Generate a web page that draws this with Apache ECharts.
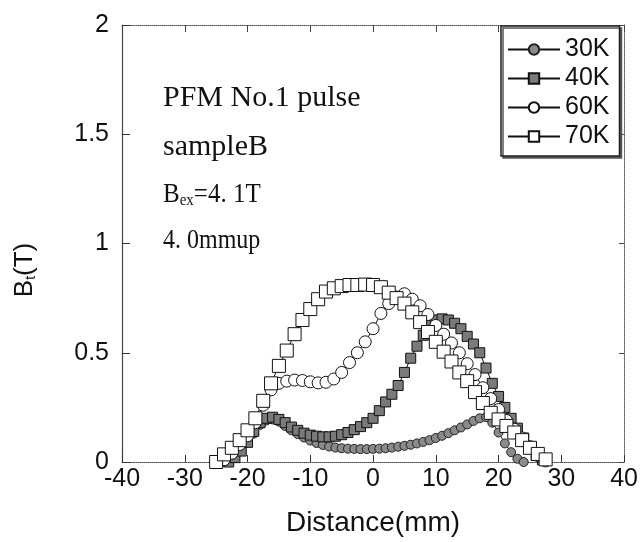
<!DOCTYPE html>
<html><head><meta charset="utf-8">
<script src="https://cdn.jsdelivr.net/npm/echarts@6/dist/echarts.min.js"></script>
<style>html,body{margin:0;padding:0;background:#fff}#c{width:641px;height:542px}</style>
</head><body><div id="c"></div>
<script>
const seriesNames = ['30K', '40K', '60K', '70K'];

const x30 = [-23,-22,-21,-20,-19,-18,-17,-16,-15,-14,-13,-12,-11,-10,-9,-8,-7,-6,-5,-4,-3,-2,-1,0,1,2,3,4,5,6,7,8,9,10,11,12,13,14,15,16,17,18,19,20,21,22,23,24];
const y30 = [0.0,0.02,0.05,0.09,0.13,0.17,0.19,0.195,0.185,0.165,0.145,0.128,0.112,0.098,0.087,0.078,0.071,0.066,0.063,0.061,0.06,0.059,0.059,0.06,0.061,0.063,0.066,0.07,0.074,0.079,0.085,0.092,0.10,0.11,0.12,0.132,0.145,0.158,0.172,0.188,0.20,0.205,0.18,0.135,0.085,0.045,0.015,0.0];

const x40 = [-23,-22,-21,-20,-19,-18,-17,-16,-15,-14,-13,-12,-11,-10,-9,-8,-7,-6,-5,-4,-3,-2,-1,0,1,2,3,4,5,6,7,8,9,10,11,12,13,14,15,16,17,18,19,20,21,22,23,24,25,26,27];
const y40 = [0.0,0.02,0.05,0.09,0.14,0.18,0.20,0.205,0.195,0.18,0.16,0.145,0.132,0.123,0.118,0.115,0.115,0.118,0.125,0.135,0.148,0.162,0.18,0.20,0.235,0.275,0.31,0.35,0.41,0.475,0.53,0.58,0.625,0.65,0.655,0.65,0.635,0.61,0.575,0.54,0.50,0.43,0.36,0.30,0.25,0.20,0.155,0.11,0.07,0.03,0.01];

const x60 = [-23.75,-22.5,-21.25,-20,-18.75,-17.5,-16.25,-15,-13.75,-12.5,-11.25,-10,-8.75,-7.5,-6.25,-5,-3.75,-2.5,-1.25,0,1.25,2.5,3.75,5,6.25,7.5,8.75,10,11.25,12.5,13.75,15,16.25,17.5,18.75,20,21.25,22.5,23.75,25,26.25,27.5];
const y60 = [0.01,0.04,0.08,0.12,0.18,0.26,0.33,0.36,0.37,0.375,0.373,0.367,0.362,0.365,0.38,0.41,0.455,0.50,0.55,0.61,0.68,0.725,0.755,0.77,0.745,0.715,0.675,0.625,0.585,0.545,0.50,0.45,0.40,0.34,0.29,0.24,0.19,0.15,0.11,0.07,0.03,0.005];

const x70 = [-25,-23.75,-22.5,-21.25,-20,-18.75,-17.5,-16.25,-15,-13.75,-12.5,-11.25,-10,-8.75,-7.5,-6.25,-5,-3.75,-2.5,-1.25,0,1.25,2.5,3.75,5,6.25,7.5,8.75,10,11.25,12.5,13.75,15,16.25,17.5,18.75,20,21.25,22.5,23.75,25,26.25,27.5];
const y70 = [0.0,0.035,0.065,0.10,0.145,0.20,0.28,0.36,0.44,0.51,0.585,0.65,0.70,0.745,0.78,0.795,0.805,0.81,0.81,0.812,0.81,0.80,0.775,0.75,0.725,0.685,0.64,0.595,0.55,0.505,0.46,0.41,0.37,0.32,0.27,0.225,0.195,0.165,0.135,0.10,0.065,0.037,0.012];

const annotations = ['PFM No.1 pulse', 'sampleB', '=4. 1T', '4. 0mmup'];

function zip(xs, ys) { return xs.map((x, i) => [x, ys[i]]); }

const SANS = '"Liberation Sans", Arial, sans-serif';
const SERIF = '"Liberation Serif", "Times New Roman", serif';

function mkSeries(name, xs, ys, symbol, size, fill, border) {
  return {
    name: name, type: 'line', data: zip(xs, ys),
    symbol: symbol, symbolSize: size, showAllSymbol: true,
    lineStyle: { color: '#111', width: 1 },
    itemStyle: { color: fill, borderColor: border, borderWidth: 1 },
    emphasis: { disabled: true },
    z: 3
  };
}

const chart = echarts.init(document.getElementById('c'), null, { renderer: 'canvas' });
chart.setOption({
  animation: false,
  backgroundColor: '#fff',
  grid: { left: 122, right: 15, top: 25, bottom: 71 },
  legend: {
    orient: 'vertical', left: 501, top: 26,
    padding: [11, 10, 7, 6], itemGap: 4, itemWidth: 52, itemHeight: 13,
    textStyle: { fontFamily: SANS, fontSize: 25, color: '#111' },
    borderColor: '#222', borderWidth: 1.5, backgroundColor: '#fff',
    shadowColor: '#555', shadowOffsetX: 2, shadowOffsetY: 2, shadowBlur: 0,
    data: seriesNames
  },
  xAxis: [{
    type: 'value', min: -40, max: 40, interval: 10, position: 'bottom',
    axisLine: { show: true, onZero: false, lineStyle: { color: '#444', type: 'dotted', width: 1 } },
    axisTick: { show: true, inside: true, length: 7, lineStyle: { color: '#333' } },
    splitLine: { show: false },
    axisLabel: { fontSize: 25, fontFamily: SANS, color: '#111', margin: 5 },
    name: 'Distance(mm)', nameLocation: 'middle', nameGap: 47,
    nameTextStyle: { fontSize: 28, fontFamily: SANS, color: '#111' }
  }, {
    type: 'value', min: -40, max: 40, interval: 10, position: 'top',
    axisLine: { show: true, onZero: false, lineStyle: { color: '#555', type: 'dotted', width: 1 } },
    axisTick: { show: true, inside: true, length: 7, lineStyle: { color: '#444' } },
    splitLine: { show: false }, axisLabel: { show: false }
  }],
  yAxis: [{
    type: 'value', min: 0, max: 2, interval: 0.5, position: 'left',
    axisLine: { show: true, onZero: false, lineStyle: { color: '#444', width: 1.2 } },
    axisTick: { show: true, inside: true, length: 8, lineStyle: { color: '#333' } },
    splitLine: { show: false },
    axisLabel: { fontSize: 25, fontFamily: SANS, color: '#111', margin: 13 }
  }, {
    type: 'value', min: 0, max: 2, interval: 0.5, position: 'right',
    axisLine: { show: true, onZero: false, lineStyle: { color: '#555', type: 'dotted', width: 1 } },
    axisTick: { show: true, inside: true, length: 5, lineStyle: { color: '#444' } },
    splitLine: { show: false }, axisLabel: { show: false }
  }],
  series: [
    mkSeries('30K', x30, y30, 'circle', 9, '#8a8a8a', '#222'),
    mkSeries('40K', x40, y40, 'rect', 10, '#7a7a7a', '#111'),
    mkSeries('60K', x60, y60, 'circle', 12, '#fff', '#111'),
    mkSeries('70K', x70, y70, 'rect', 13, '#fff', '#111')
  ],
  graphic: [
    { type: 'text', x: 163, y: 98, z: 10,
      style: { text: annotations[0], fontFamily: SERIF, fontSize: 30, fill: '#111', verticalAlign: 'middle' } },
    { type: 'text', x: 163, y: 147, z: 10,
      style: { text: annotations[1], fontFamily: SERIF, fontSize: 30, fill: '#111', verticalAlign: 'middle' } },
    { type: 'text', x: 163, y: 195, z: 10, scaleY: 1.12,
      style: { text: '{b|B}{s|ex}{b|' + annotations[2] + '}', verticalAlign: 'middle',
        rich: { b: { fontFamily: SERIF, fontSize: 25, fill: '#111', verticalAlign: 'bottom' },
                s: { fontFamily: SERIF, fontSize: 15, fill: '#111', verticalAlign: 'bottom', padding: [4, 0, 0, 0] } } } },
    { type: 'text', x: 163, y: 241, z: 10, scaleY: 1.12,
      style: { text: annotations[3], fontFamily: SERIF, fontSize: 24, fill: '#111', verticalAlign: 'middle' } },
    { type: 'text', x: 25, y: 270, rotation: Math.PI / 2, z: 10,
      style: { text: '{b|B}{s|t}{b|(T)}', align: 'center', verticalAlign: 'middle',
        rich: { b: { fontFamily: SANS, fontSize: 26, fill: '#111', verticalAlign: 'bottom' },
                s: { fontFamily: SANS, fontSize: 14, fill: '#111', verticalAlign: 'bottom' } } } }
  ]
});
</script></body></html>
